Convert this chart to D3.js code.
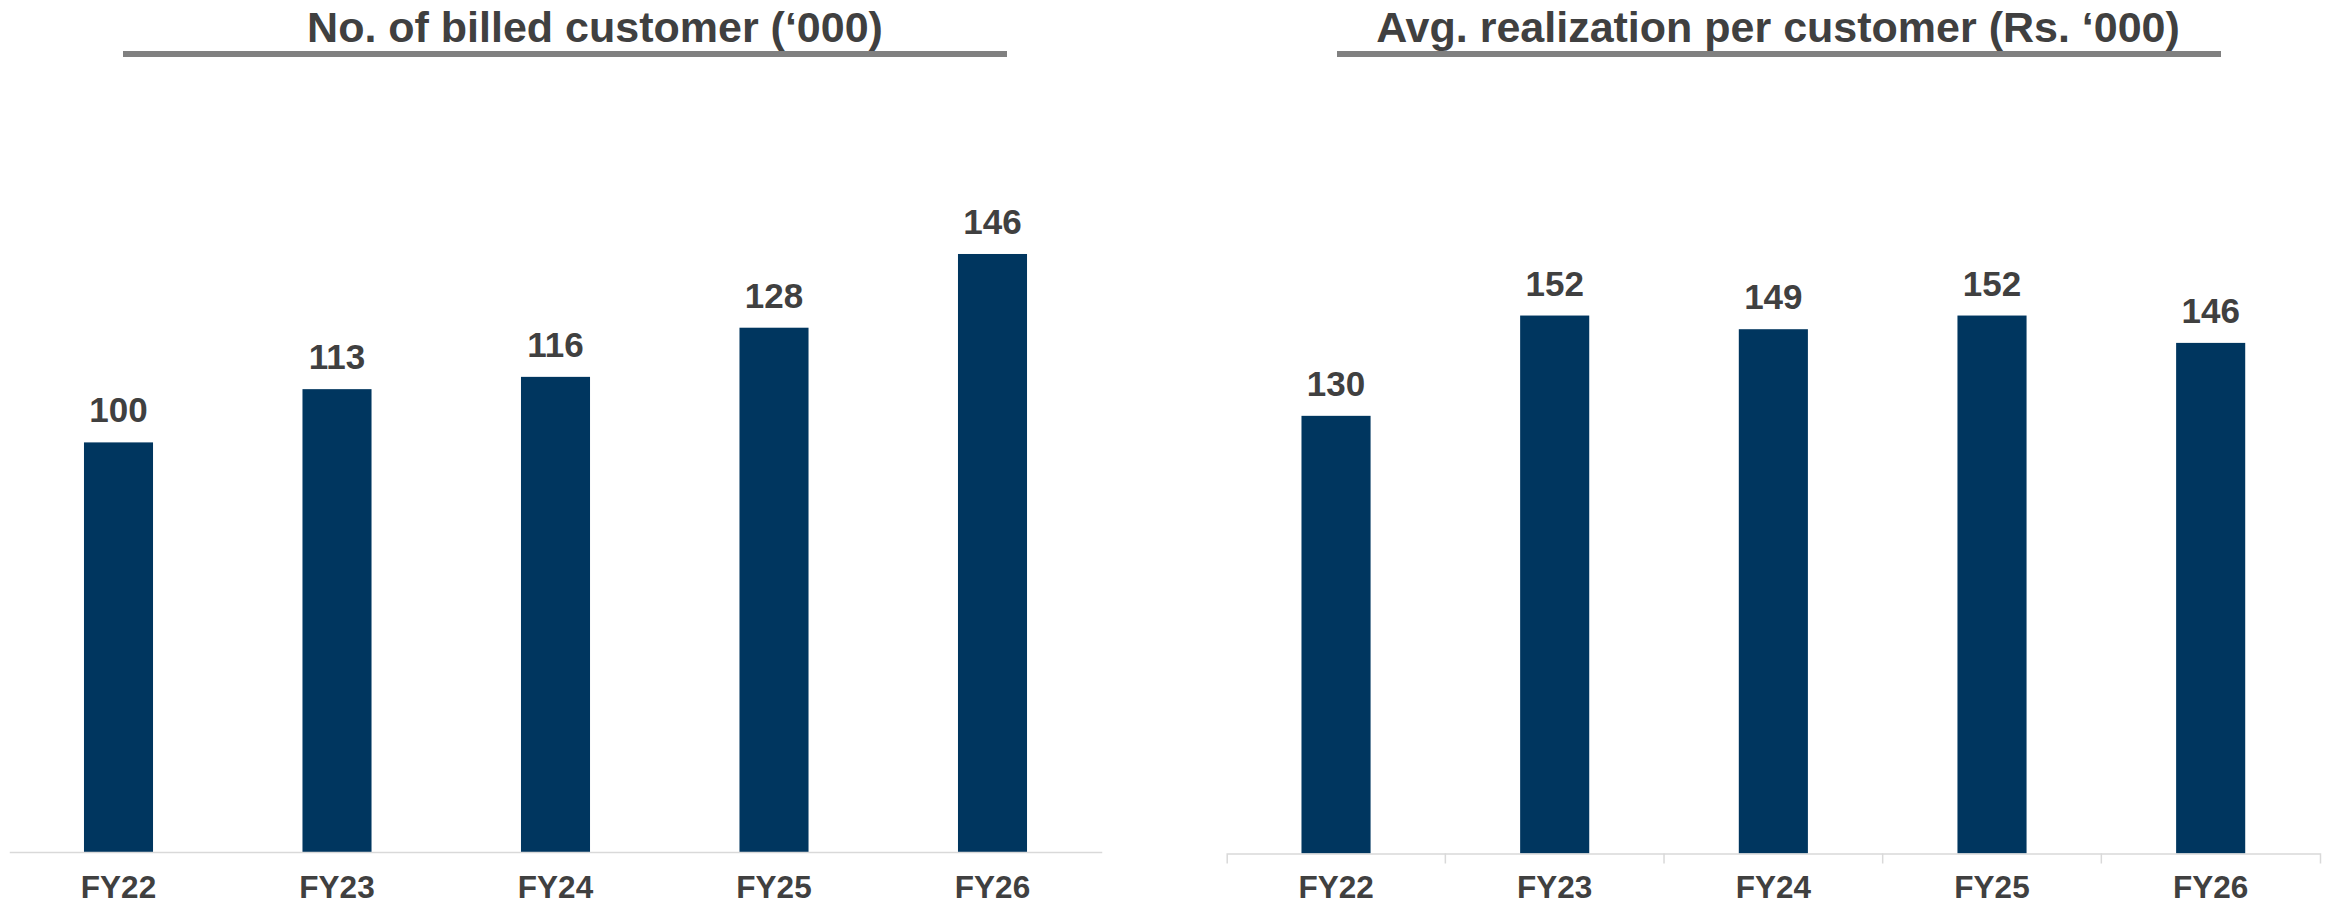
<!DOCTYPE html>
<html>
<head>
<meta charset="utf-8">
<script src="https://cdn.jsdelivr.net/npm/d3@7"></script>
<style>
  html, body { margin: 0; padding: 0; background: #ffffff; }
  svg { display: block; }
  text { font-family: "Liberation Sans", Arial, sans-serif; font-weight: bold; }
</style>
</head>
<body>
<script>
// ---- data ----
const categories = ["FY22", "FY23", "FY24", "FY25", "FY26"];
const billedCustomers = [100, 113, 116, 128, 146];      // No. of billed customer ('000)
const avgRealization = [130, 152, 149, 152, 146];       // Avg. realization per customer (Rs. '000)
const leftTitle = "No. of billed customer (\u2018000)";
const rightTitle = "Avg. realization per customer (Rs. \u2018000)";
const leftYDomain = [0, 160];
const rightYDomain = [34, 160];

// ---- drawing ----
const W = 2333, H = 906;
const barColor = "#00365f";
const textColor = "#404040";
const axisColor = "#d9d9d9";

const svg = d3.select("body").append("svg").attr("width", W).attr("height", H);

function drawPanel(cfg) {
  const g = svg.append("g");

  // title + underline
  g.append("text")
    .attr("x", cfg.titleX).attr("y", 42)
    .attr("text-anchor", "middle")
    .attr("font-size", 43)
    .attr("fill", textColor)
    .text(cfg.title);
  g.append("rect")
    .attr("x", cfg.lineX0).attr("y", 51)
    .attr("width", cfg.lineX1 - cfg.lineX0).attr("height", 6)
    .attr("fill", "#808080");

  const x = d3.scaleBand().domain(categories)
    .range([cfg.x0, cfg.x1]).paddingInner(0.684).paddingOuter(0.342);
  const y = d3.scaleLinear().domain(cfg.yDomain).range([cfg.baseline, cfg.top]);

  const data = categories.map((c, i) => ({ c, v: cfg.values[i] }));

  g.selectAll("rect.bar").data(data).enter().append("rect")
    .attr("class", "bar")
    .attr("x", d => x(d.c))
    .attr("width", x.bandwidth())
    .attr("y", d => y(d.v))
    .attr("height", d => y(cfg.yDomain[0]) - y(d.v))
    .attr("fill", barColor);

  g.selectAll("text.val").data(data).enter().append("text")
    .attr("class", "val")
    .attr("x", d => x(d.c) + x.bandwidth() / 2)
    .attr("y", d => y(d.v) - 20)
    .attr("text-anchor", "middle")
    .attr("font-size", 35)
    .attr("fill", textColor)
    .text(d => d.v);

  // axis
  const axis = d3.axisBottom(x).tickSize(0).tickSizeOuter(cfg.outerTicks ? 10 : 0);
  const ag = g.append("g").attr("transform", `translate(0,${cfg.baseline})`).call(axis);
  ag.select(".domain").attr("stroke", axisColor).attr("stroke-width", 1.5);
  ag.selectAll(".tick line").remove();
  ag.selectAll(".tick text")
    .attr("y", 898 - cfg.baseline).attr("dy", 0)
    .attr("font-size", 31.5)
    .attr("font-family", "'Liberation Sans', Arial, sans-serif")
    .attr("font-weight", "bold")
    .attr("fill", textColor);

  if (cfg.outerTicks) {
    // boundary ticks between categories
    const bounds = categories.slice(1).map(c => x(c) - x.step() * x.paddingOuter());
    ag.selectAll("line.bt").data(bounds).enter().append("line")
      .attr("class", "bt")
      .attr("x1", d => d).attr("x2", d => d)
      .attr("y1", 0).attr("y2", 10)
      .attr("stroke", axisColor).attr("stroke-width", 1.5);
  }
}

drawPanel({
  title: leftTitle, titleX: 595, lineX0: 123, lineX1: 1007,
  x0: 9.25, x1: 1101.75, baseline: 852, top: 852 - 160 * 4.096,
  yDomain: leftYDomain, values: billedCustomers, outerTicks: false
});

drawPanel({
  title: rightTitle, titleX: 1778, lineX0: 1337, lineX1: 2221,
  x0: 1226.7, x1: 2320, baseline: 853.5, top: 853.5 - 126 * 4.559,
  yDomain: rightYDomain, values: avgRealization, outerTicks: true
});
</script>
</body>
</html>
